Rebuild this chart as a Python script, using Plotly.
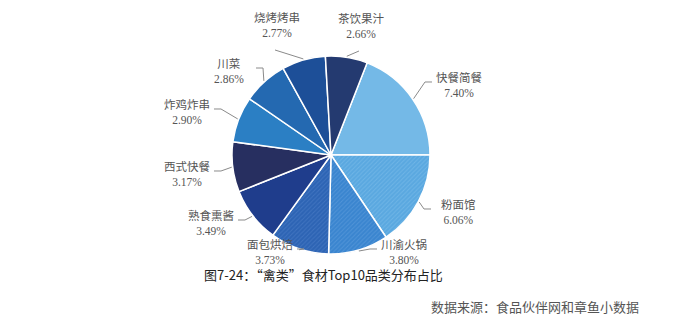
import math
import plotly.graph_objects as go

categories = ["快餐简餐", "粉面馆", "川渝火锅", "面包烘焙", "熟食熏酱",
              "西式快餐", "炸鸡炸串", "川菜", "烧烤烤串", "茶饮果汁"]
values = [7.40, 6.06, 3.80, 3.73, 3.49, 3.17, 2.90, 2.86, 2.77, 2.66]
value_labels = ["7.40%", "6.06%", "3.80%", "3.73%", "3.49%",
                "3.17%", "2.90%", "2.86%", "2.77%", "2.66%"]

colors = ["#74b9e7", "#5aa8e0", "#3a85cf", "#2d64b4", "#1f3d8c",
          "#272f60", "#2b7fc4", "#2469b1", "#1d4f98", "#243a70"]
patterns = ["", "/", "/", "/", "", "", "", "", "", ""]
pattern_fg = ["#74b9e7", "#86c3ec", "#6aa5e0", "#5585cc", "#1f3d8c",
              "#272f60", "#2b7fc4", "#2469b1", "#1d4f98", "#243a70"]

W, H = 683, 321
CX, CY, R = 331, 155, 99
ROT = 90 - 360 * values[0] / sum(values)

# label block centres (px) and which side the leader attaches to
label_pos = [(459, 85, "r"), (458, 212, "r"), (404, 252, "r"), (270, 252, "l"),
             (211, 223, "l"), (187, 174, "l"), (187, 112, "l"), (229, 71, "l"),
             (277, 25, "t"), (361, 26, "t")]

fig = go.Figure()
fig.add_trace(go.Pie(
    labels=categories, values=values, sort=False, direction="clockwise",
    rotation=ROT, textinfo="none", hoverinfo="label+percent",
    marker=dict(colors=colors, line=dict(color="white", width=1.5),
                pattern=dict(shape=patterns, fgcolor=pattern_fg, bgcolor=colors,
                             fillmode="overlay", size=3, solidity=0.3)),
    domain=dict(x=[(CX - R) / W, (CX + R) / W], y=[1 - (CY + R) / H, 1 - (CY - R) / H]),
    showlegend=False,
))

def px(x, y):
    return x / W, 1 - y / H

annotations = []
shapes = []
total = sum(values)
cum = 0
for i, (cat, v, vl) in enumerate(zip(categories, values, value_labels)):
    mid = ROT + 360 * (cum + v / 2) / total
    cum += v
    a = math.radians(mid)
    p0 = (CX + (R + 1) * math.sin(a), CY - (R + 1) * math.cos(a))
    lx, ly, side = label_pos[i]
    ax, ay = px(lx, ly)
    annotations.append(dict(x=ax, y=ay, xref="paper", yref="paper", text=f"{cat}<br>{vl}",
                            showarrow=False, align="center", xanchor="center", yanchor="middle",
                            font=dict(family="Liberation Serif, Noto Sans CJK SC", size=11.5, color="#555")))
    if side == "r":
        p2 = (lx - 27, ly - 3)
        p1 = (p2[0] - 7, p2[1])
        pts = [p0, p1, p2]
    elif side == "l":
        p2 = (lx + 27, ly - 3)
        p1 = (p2[0] + 7, p2[1])
        pts = [p0, p1, p2]
    else:
        p2 = (lx - 2, ly + 25)
        pts = [p0, p2]
    path = "M " + " L ".join(f"{px(*p)[0]:.5f},{px(*p)[1]:.5f}" for p in pts)
    shapes.append(dict(type="path", path=path, xref="paper", yref="paper",
                       line=dict(color="#8a8a8a", width=1)))

annotations.append(dict(x=px(323, 274)[0], y=px(323, 274)[1], xref="paper", yref="paper",
                        text="图7-24：“禽类”食材Top10品类分布占比", showarrow=False,
                        xanchor="center", yanchor="middle",
                        font=dict(family="Noto Sans CJK SC", size=13, color="#222")))
annotations.append(dict(x=px(641, 306)[0], y=px(641, 306)[1], xref="paper", yref="paper",
                        text="数据来源：食品伙伴网和章鱼小数据", showarrow=False,
                        xanchor="right", yanchor="middle",
                        font=dict(family="Noto Sans CJK SC", size=13, color="#555")))

fig.update_layout(width=W, height=H, margin=dict(l=0, r=0, t=0, b=0),
                  paper_bgcolor="white", plot_bgcolor="white",
                  annotations=annotations, shapes=shapes)
fig.write_html("out.html")
